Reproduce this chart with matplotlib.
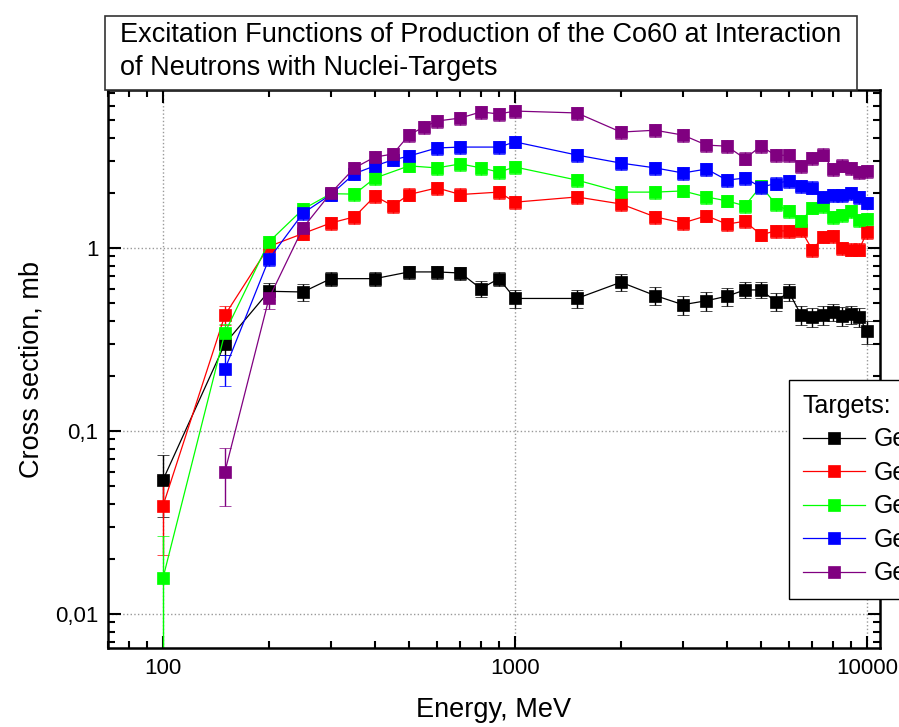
import numpy as np
import matplotlib
matplotlib.use("Agg")
import matplotlib.pyplot as plt
from matplotlib.lines import Line2D
from matplotlib.patches import Rectangle
from matplotlib.ticker import FixedLocator, FuncFormatter, LogLocator, NullFormatter

plt.rcParams['font.family'] = ['Liberation Sans', 'DejaVu Sans']

high_e = [1500, 2000, 2500, 3000, 3500, 4000, 4500, 5000, 5500, 6000,
          6500, 7000, 7500, 8000, 8500, 9000, 9500, 10000]

# black target
e_black = [100, 150, 200, 250, 300, 400, 500, 600, 700, 800, 900, 1000] + high_e
cs_black = [0.054, 0.30, 0.58, 0.575, 0.68, 0.68, 0.74, 0.74, 0.73, 0.60, 0.68, 0.53,
            0.53, 0.65, 0.55, 0.49, 0.515, 0.545, 0.59, 0.59, 0.51, 0.575,
            0.43, 0.42, 0.43, 0.447, 0.425, 0.435, 0.42, 0.35]
err_black = [0.02, 0.04, 0.06, 0.06, 0.06, 0.06, 0.06, 0.06, 0.06, 0.06, 0.06, 0.06,
             0.06, 0.07, 0.06, 0.06, 0.06, 0.06, 0.06, 0.06, 0.06, 0.06,
             0.05, 0.05, 0.05, 0.05, 0.05, 0.05, 0.05, 0.05]

# red target
e_red = [100, 150, 200, 250, 300, 350, 400, 450, 500, 600, 700, 900, 1000] + high_e
cs_red = [0.039, 0.43, 1.02, 1.20, 1.37, 1.48, 1.92, 1.70, 1.96, 2.13, 1.96, 2.02, 1.78,
          1.90, 1.74, 1.48, 1.37, 1.50, 1.35, 1.40, 1.18, 1.24, 1.24,
          1.25, 0.975, 1.15, 1.16, 1.0, 0.98, 0.98, 1.22]
err_red = [0.018, 0.05, 0.08, 0.10, 0.11, 0.12, 0.15, 0.14, 0.16, 0.17, 0.16, 0.16, 0.14,
           0.15, 0.14, 0.12, 0.11, 0.12, 0.11, 0.11, 0.09, 0.10, 0.10,
           0.10, 0.08, 0.09, 0.09, 0.08, 0.08, 0.08, 0.10]

# green target
e_green = [100, 150, 200, 250, 300, 350, 400, 500, 600, 700, 800, 900, 1000] + high_e
cs_green = [0.0157, 0.345, 1.08, 1.63, 1.98, 1.97, 2.41, 2.81, 2.74, 2.88, 2.74, 2.60, 2.77,
            2.35, 2.02, 2.02, 2.05, 1.90, 1.81, 1.70, 2.18, 1.74, 1.59,
            1.40, 1.66, 1.69, 1.48, 1.51, 1.59, 1.42, 1.44]
err_green = [0.011, 0.04, 0.09, 0.13, 0.16, 0.16, 0.19, 0.22, 0.22, 0.23, 0.22, 0.21, 0.22,
             0.19, 0.16, 0.16, 0.16, 0.15, 0.14, 0.14, 0.17, 0.14, 0.13,
             0.11, 0.13, 0.14, 0.12, 0.12, 0.13, 0.11, 0.12]

# blue target
e_blue = [150, 200, 250, 300, 350, 400, 450, 500, 600, 700, 900, 1000] + high_e
cs_blue = [0.218, 0.87, 1.55, 1.96, 2.55, 2.81, 3.03, 3.18, 3.52, 3.56, 3.56, 3.80,
           3.22, 2.91, 2.74, 2.57, 2.70, 2.35, 2.41, 2.15, 2.25, 2.33,
           2.18, 2.14, 1.89, 1.95, 1.95, 2.0, 1.90, 1.77]
err_blue = [0.042, 0.075, 0.12, 0.16, 0.20, 0.22, 0.24, 0.25, 0.28, 0.28, 0.28, 0.30,
            0.26, 0.23, 0.22, 0.21, 0.22, 0.19, 0.19, 0.17, 0.18, 0.19,
            0.17, 0.17, 0.15, 0.16, 0.16, 0.16, 0.15, 0.14]

# purple target
e_purple = [150, 200, 250, 300, 350, 400, 450, 500, 550, 600, 700, 800, 900, 1000] + high_e
cs_purple = [0.060, 0.53, 1.29, 2.0, 2.74, 3.14, 3.26, 4.14, 4.58, 4.94, 5.13, 5.54, 5.40, 5.60,
             5.47, 4.30, 4.40, 4.14, 3.65, 3.60, 3.08, 3.60, 3.21, 3.21,
             2.79, 3.10, 3.24, 2.70, 2.82, 2.74, 2.60, 2.62]
err_purple = [0.021, 0.065, 0.10, 0.16, 0.22, 0.25, 0.26, 0.33, 0.37, 0.40, 0.41, 0.44, 0.43, 0.45,
              0.44, 0.34, 0.35, 0.33, 0.29, 0.29, 0.25, 0.29, 0.26, 0.26,
              0.22, 0.25, 0.26, 0.22, 0.23, 0.22, 0.21, 0.21]

labels = ["Ge70", "Ge72", "Ge73", "Ge74", "Ge76"]
colors = ["#000000", "#ff0000", "#00ff00", "#0000ff", "#800080"]

series = [(e_black, cs_black, err_black), (e_red, cs_red, err_red),
          (e_green, cs_green, err_green), (e_blue, cs_blue, err_blue),
          (e_purple, cs_purple, err_purple)]

fig = plt.figure(figsize=(8.99, 7.27), dpi=100)
ax = fig.add_axes([108/899, 1-648/727, (880-108)/899, (648-90)/727])

handles = []
for (x, y, err), lab, col in zip(series, labels, colors):
    ax.errorbar(x, y, yerr=err, fmt='-s', color=col, ecolor=col, markersize=8.5,
                markeredgewidth=0.5, linewidth=0.9, elinewidth=1.0, capsize=4.5,
                capthick=1.0)
    # legend handle without the error bar, like the original
    handles.append(Line2D([], [], color=col, marker='s', markersize=8.5,
                          markeredgewidth=0.5, linewidth=0.9, label=lab))

ax.set_xscale('log')
ax.set_yscale('log')
ax.set_xlim(69.8, 10890)
ax.set_ylim(0.00652, 7.3)

ax.xaxis.set_major_locator(FixedLocator([100, 1000, 10000]))
ax.xaxis.set_major_formatter(FuncFormatter(lambda v, p: f"{v:.0f}"))
ax.xaxis.set_minor_locator(LogLocator(base=10, subs=np.arange(2, 10)))
ax.xaxis.set_minor_formatter(NullFormatter())
ax.yaxis.set_major_locator(FixedLocator([0.01, 0.1, 1]))
ax.yaxis.set_major_formatter(FuncFormatter(lambda v, p: f"{v:g}".replace(".", ",")))
ax.yaxis.set_minor_locator(LogLocator(base=10, subs=np.arange(2, 10)))
ax.yaxis.set_minor_formatter(NullFormatter())

ax.tick_params(which='both', direction='in', top=True, right=True, width=1.5,
               labelsize=16, pad=7)
ax.tick_params(which='major', length=9)
ax.tick_params(which='minor', length=5)
for s in ax.spines.values():
    s.set_linewidth(1.8)

ax.grid(True, which='major', linestyle=':', color='#999999', linewidth=1.0)

ax.set_xlabel("Energy, MeV", fontsize=19.5)
ax.set_ylabel("Cross section, mb", fontsize=19.5)
ax.xaxis.set_label_coords(0.5, -0.088)
ax.yaxis.set_label_coords(-0.082, 0.5)

leg = ax.legend(handles=handles, title="Targets:", loc='upper left',
                bbox_to_anchor=(789/899, 1-380/727), bbox_transform=fig.transFigure,
                fontsize=18, title_fontsize=18, alignment='left', frameon=True,
                fancybox=False, edgecolor='black', framealpha=1, handlelength=2.5,
                handletextpad=0.35, labelspacing=0.38, borderpad=0.55, borderaxespad=0)
leg.get_frame().set_linewidth(1.0)

# title box
fig.patches.append(Rectangle((105/899, 1-90/727), (857-105)/899, (90-16)/727,
                             transform=fig.transFigure, facecolor='white',
                             edgecolor='#333333', linewidth=1.2, zorder=10))
fig.text(120/899, 1-35/727, "Excitation Functions of Production of the Co60 at Interaction",
         fontsize=19.5, ha='left', va='center', zorder=11)
fig.text(120/899, 1-68/727, "of Neutrons with Nuclei-Targets",
         fontsize=19.5, ha='left', va='center', zorder=11)

fig.savefig("out.png", dpi=100)
